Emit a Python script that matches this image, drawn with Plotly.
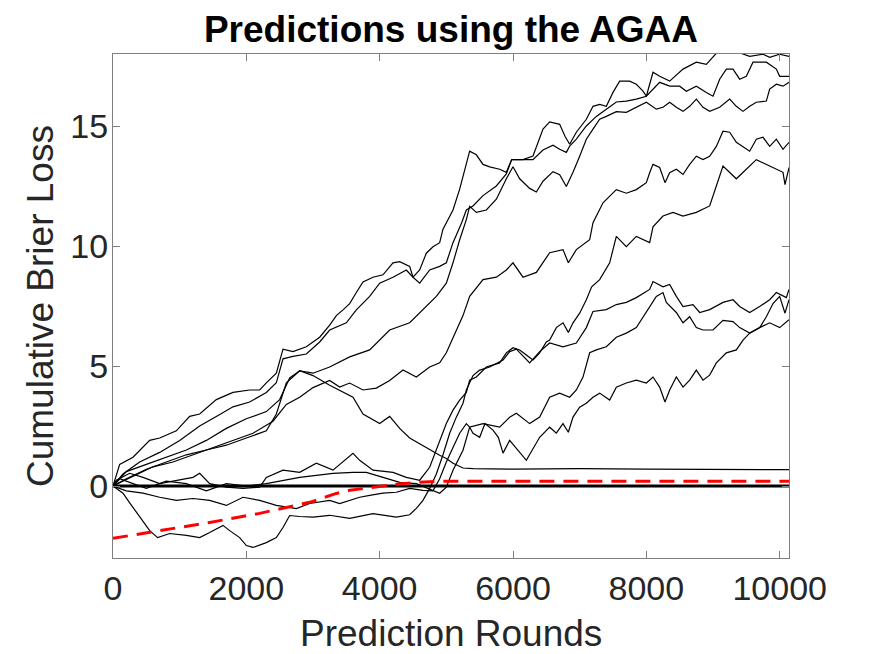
import plotly.graph_objects as go

# ---------------- data ----------------
title_text = "Predictions using the AGAA"
x_label = "Prediction Rounds"
y_label = "Cumulative Brier Loss"
x_ticks = [0, 2000, 4000, 6000, 8000, 10000]
y_ticks = [0, 5, 10, 15]
x_max = 10140
y_min, y_max = -3, 18

run_a_x = [0, 100, 300, 550, 700, 950, 1150, 1300, 1550, 1800, 2050, 2200, 2300, 2450, 2550, 2700, 2900, 3100,
           3250, 3350, 3450, 3550, 3650, 3750, 3900, 4050, 4200, 4300, 4450, 4500, 4600, 4700, 4800, 4900, 4950,
           5100, 5200, 5300, 5350, 5450, 5550, 5650, 5800, 5900, 5980, 6150, 6300, 6450, 6550, 6700, 6780, 6850,
           6950, 7100, 7200, 7300, 7400, 7500, 7600, 7750, 7850, 7950, 8000, 8100, 8200, 8350, 8550, 8750, 8900,
           9050, 9200, 9400, 9550, 9750, 9850, 10000, 10140]
run_a_y = [0, 0.9, 1.2, 1.9, 2.0, 2.3, 2.9, 3.0, 3.6, 3.9, 4.0, 4.0, 4.3, 4.7, 5.7, 5.6, 5.8, 6.2,
           6.7, 7.1, 7.34, 7.6, 8.06, 8.5, 8.7, 8.8, 9.3, 9.35, 9.15, 8.7, 9.0, 9.7, 9.97, 10.14, 10.7,
           11.5, 12.37, 13.5, 13.95, 13.8, 13.4, 13.3, 13.2, 13.07, 13.6, 13.6, 13.75, 14.87, 15.17, 15.07, 14.57, 14.24,
           14.74, 15.28, 15.82, 15.9, 15.82, 16.4, 16.87, 16.87, 16.74, 16.45, 16.24, 17.24, 17.07, 16.87, 17.37, 17.66, 17.57,
           18.03, 18.1, 18.05, 17.9, 17.99, 17.86, 17.99, 17.9]

run_b_x = [0, 150, 400, 700, 1000, 1300, 1550, 1800, 2050, 2300, 2450, 2550, 2700, 2900, 3100, 3250, 3500, 3650,
           3850, 4000, 4200, 4400, 4500, 4600, 4750, 4900, 5000, 5100, 5230, 5300, 5400, 5550, 5750, 5900, 5980,
           6150, 6300, 6450, 6600, 6700, 6800, 6850, 6950, 7100, 7250, 7400, 7550, 7700, 7850, 8000, 8200, 8350,
           8500, 8600, 8750, 8900, 9000, 9100, 9200, 9300, 9400, 9500, 9600, 9800, 9950, 10000, 10140]
run_b_y = [0, 0.5, 1.0, 1.4, 1.9, 2.5, 2.9, 3.3, 3.5, 3.9, 4.3, 5.3, 5.4, 5.5, 6.0, 6.5, 6.8, 7.34,
           7.9, 8.45, 8.7, 9.0, 8.7, 8.45, 9.0, 9.15, 9.3, 10.14, 10.97, 11.5, 11.67, 12.1, 12.5, 13.0, 13.6,
           13.6, 13.6, 14.0, 14.2, 14.03, 13.9, 14.16, 14.45, 15.0, 15.4, 15.7, 16.0, 16.04, 16.12, 16.24, 16.82, 16.66,
           16.66, 16.45, 16.66, 16.4, 16.24, 16.95, 17.37, 17.37, 16.95, 17.07, 17.66, 17.66, 17.37, 17.07, 17.07]

run_c_x = [0, 200, 500, 800, 1100, 1400, 1700, 2000, 2300, 2500, 2650, 2800, 3000, 3250, 3550, 3850, 4150, 4450,
           4650, 4850, 5000, 5100, 5200, 5300, 5350, 5450, 5600, 5750, 5900, 6000, 6100, 6250, 6350, 6450, 6600,
           6700, 6800, 6900, 7000, 7100, 7200, 7300, 7400, 7550, 7700, 7850, 8000, 8150, 8250, 8350, 8450, 8550,
           8650, 8750, 8850, 8950, 9100, 9250, 9350, 9450, 9550, 9650, 9800, 9850, 9950, 10050, 10140]
run_c_y = [0, 0.6, 0.9, 1.2, 1.5, 1.9, 2.4, 2.8, 3.1, 3.6, 4.5, 4.8, 4.7, 4.96, 5.38, 5.67, 6.5, 6.8,
           7.34, 7.9, 8.45, 9.3, 10.26, 11.1, 11.65, 11.4, 11.5, 11.95, 12.8, 13.3, 12.8, 12.4, 12.25, 12.7, 13.1,
           12.97, 12.48, 13.07, 13.74, 14.45, 14.87, 15.28, 15.4, 15.6, 15.57, 15.78, 15.99, 15.7, 15.78, 15.99, 15.78, 15.61,
           15.82, 16.12, 15.78, 15.61, 15.78, 16.12, 15.82, 15.61, 15.82, 15.99, 16.04, 16.54, 16.74, 16.66, 16.82]

run_d_x = [0, 300, 600, 900, 1200, 1500, 1800, 2100, 2400, 2600, 2800, 3000, 3250, 3400, 3550, 3750, 3950, 4150,
           4350, 4550, 4750, 4900, 5000, 5100, 5250, 5350, 5550, 5750, 5900, 6000, 6150, 6350, 6550, 6750, 6830,
           6950, 7150, 7200, 7350, 7550, 7700, 7850, 8000, 8050, 8100, 8200, 8280, 8350, 8450, 8550, 8650, 8750,
           8850, 8950, 9050, 9150, 9250, 9350, 9450, 9550, 9650, 9750, 9850, 9950, 10050, 10140]
run_d_y = [0, 0.4, 0.8, 1.0, 1.3, 1.6, 1.9, 2.2, 2.7, 3.4, 3.7, 4.1, 4.4, 4.12, 4.29, 4.0, 4.08, 4.4,
           4.83, 4.54, 4.96, 5.13, 5.55, 6.2, 7.1, 7.9, 8.6, 8.7, 9.0, 9.3, 8.7, 8.9, 9.72, 9.85, 9.3,
           9.85, 10.26, 10.97, 11.8, 12.35, 12.2, 12.35, 12.64, 13.05, 13.4, 13.27, 12.64, 13.05, 13.2, 12.98, 13.4, 13.74,
           13.6, 13.74, 14.15, 14.78, 14.74, 14.32, 14.15, 13.95, 14.45, 14.53, 14.15, 14.45, 14.03, 14.32]

run_e_x = [0, 50, 250, 450, 700, 950, 1200, 1300, 1450, 1700, 1950, 2200, 2300, 2550, 2800, 3050, 3300, 3600,
           3700, 3900, 4200, 4400, 4600, 4750, 4850, 4900, 5000, 5100, 5200, 5300, 5350, 5450, 5600, 5800, 5900,
           6000, 6100, 6200, 6300, 6400, 6500, 6550, 6650, 6750, 6830, 6900, 7000, 7100, 7180, 7300, 7450, 7550,
           7700, 7850, 8050, 8100, 8250, 8400, 8550, 8750, 8950, 9050, 9150, 9350, 9550, 9650, 9850, 10050, 10080, 10140]
run_e_y = [0, 0.24, 0.53, 0.36, 0.1, 0.24, 0.36, 0.53, 0.1, -0.05, -0.1, -0.05, 0.36, 0.66, 0.57, 0.95, 0.66, 1.36,
           1.07, 0.66, 0.57, 0.36, 0.24, 0.78, 1.49, 1.9, 2.6, 3.16, 3.58, 3.9, 4.41, 4.54, 4.96, 5.13, 5.55,
           5.76, 5.67, 5.46, 5.25, 5.55, 6.0, 6.08, 6.6, 6.8, 6.4, 6.8, 7.2, 7.76, 8.3, 8.6, 9.3, 10.4,
           9.97, 10.4, 10.14, 10.8, 11.25, 11.4, 11.25, 11.4, 11.67, 12.5, 13.33, 12.8, 13.33, 13.6, 13.33, 13.07, 12.56, 13.27]

run_f_x = [0, 150, 250, 400, 550, 670, 850, 1100, 1300, 1450, 1650, 1750, 1900, 2000, 2100, 2300, 2450, 2550,
           2650, 2800, 3000, 3250, 3550, 3900, 4250, 4450, 4550, 4650, 4750, 4850, 4950, 5050, 5150, 5250, 5300,
           5400, 5500, 5650, 5850, 5950, 6050, 6250, 6400, 6550, 6750, 6950, 7100, 7200, 7400, 7550, 7700, 7850,
           8050, 8100, 8250, 8350, 8450, 8550, 8700, 8800, 8950, 9150, 9300, 9400, 9550, 9700, 9850, 9950, 10100, 10140]
run_f_y = [0, -0.3, -0.7, -1.3, -1.86, -2.15, -1.98, -2.06, -2.15, -1.94, -1.64, -1.86, -2.15, -2.48, -2.56, -2.36, -2.15, -1.73,
           -1.23, -1.27, -1.3, -1.22, -1.35, -1.15, -1.3, -1.2, -0.93, -0.6, -0.1, 0.5, 1.3, 2.2, 2.87, 3.45, 4.0,
           4.6, 4.83, 4.96, 5.25, 5.6, 5.7, 5.13, 5.6, 5.96, 5.8, 5.96, 6.6, 7.27, 7.35, 7.56, 7.65, 7.85,
           8.19, 8.52, 8.3, 8.4, 7.9, 7.48, 7.56, 7.23, 7.35, 7.65, 7.76, 7.48, 7.23, 7.48, 7.76, 8.06, 7.85, 8.19]

run_g_x = [0, 200, 450, 700, 950, 1200, 1450, 1700, 1950, 2200, 2450, 2750, 2950, 3250, 3400, 3550, 3700, 3850,
           4050, 4250, 4450, 4650, 4800, 4900, 5000, 5100, 5200, 5300, 5350, 5550, 5800, 5950, 6050, 6250, 6400,
           6550, 6700, 6850, 6950, 7050, 7150, 7250, 7400, 7550, 7700, 7850, 7950, 8050, 8150, 8250, 8300, 8450,
           8550, 8650, 8750, 8850, 9000, 9150, 9300, 9400, 9550, 9700, 9800, 9900, 10000, 10080, 10140]
run_g_y = [0, -0.2, -0.3, -0.47, -0.6, -0.52, -0.6, -0.81, -0.47, -0.6, -0.81, -0.94, -0.73, -0.6, -0.73, -0.6, -0.47, -0.39,
           -0.3, -0.26, -0.1, -0.18, -0.2, 0.3, 1.0, 1.6, 2.2, 2.6, 2.45, 2.6, 2.45, 2.87, 3.03, 2.6, 2.87,
           3.7, 3.87, 3.7, 4.0, 4.54, 5.55, 5.67, 5.8, 6.2, 6.37, 6.6, 7.05, 7.48, 7.9, 8.06, 7.65, 7.23,
           6.8, 7.05, 6.6, 6.5, 6.5, 6.9, 6.85, 6.6, 6.37, 6.6, 7.05, 7.6, 7.9, 7.2, 7.76]

run_h_x = [0, 100, 300, 500, 800, 1100, 1400, 1700, 2000, 2300, 2800, 3300, 3600, 3800, 4050, 4300, 4550, 4800,
           4900, 5000, 5100, 5250, 5350, 5400, 5500, 5580, 5700, 5780, 5850, 5950, 6200, 6400, 6550, 6650, 6750,
           6830, 6900, 7000, 7100, 7200, 7300, 7450, 7550, 7700, 7850, 8000, 8100, 8200, 8280, 8350, 8450, 8550,
           8650, 8750, 8850, 8950, 9050, 9200, 9350, 9450, 9550, 9700, 9850, 10000, 10100, 10140]
run_h_y = [0, 0.3, 0.1, -0.1, 0.2, 0.1, -0.2, 0.1, 0.0, 0.1, 0.36, 0.53, 0.57, 0.57, 0.36, 0.15, 0.1, -0.2,
           -0.3, -0.05, 0.66, 1.49, 2.45, 2.2, 2.03, 2.6, 2.33, 2.03, 1.37, 1.9, 1.07, 2.03, 2.45, 2.2, 2.6,
           2.24, 2.87, 3.28, 3.45, 3.7, 3.87, 3.58, 4.12, 4.29, 4.41, 4.29, 4.54, 4.12, 3.5, 4.0, 4.54, 4.12,
           4.41, 4.83, 4.41, 4.62, 5.13, 5.55, 5.67, 6.08, 6.37, 6.6, 6.8, 6.6, 6.85, 6.93]

run_i_x = [0, 200, 500, 800, 1100, 1400, 1700, 2000, 2300, 2450, 2600, 2800, 3000, 3250, 3400, 3600, 3750, 4000,
           4150, 4300, 4450, 4600, 4750, 4900, 5000, 5100, 5250, 5400, 6000, 7000, 8000, 9000, 10140]
run_i_y = [0, 0.3, 0.7, 1.0, 1.3, 1.5, 1.7, 2.0, 2.3, 3.0, 4.3, 4.8, 4.6, 4.2, 4.0, 3.7, 3.0, 2.6,
           2.9, 2.4, 2.0, 1.75, 1.5, 1.28, 1.15, 0.95, 0.75, 0.72, 0.70, 0.72, 0.70, 0.69, 0.68]

zero_x = [0, 10140]
zero_y = [0, 0]

bound_x = [0, 700, 1450, 2200, 2950, 3350, 3550, 4250, 4550, 4950, 10140]
bound_y = [-2.18, -1.86, -1.52, -1.14, -0.68, -0.31, -0.18, 0.07, 0.15, 0.2, 0.2]

runs = [(run_a_x, run_a_y), (run_b_x, run_b_y), (run_c_x, run_c_y), (run_d_x, run_d_y),
        (run_e_x, run_e_y), (run_f_x, run_f_y), (run_g_x, run_g_y), (run_h_x, run_h_y),
        (run_i_x, run_i_y)]

# ---------------- figure ----------------
FONT = "Liberation Sans, Arial, Helvetica, sans-serif"
TXT = "#262626"
AX = "#7f7f7f"

fig = go.Figure()
for rx, ry in runs:
    fig.add_trace(go.Scatter(x=rx, y=ry, mode="lines",
                             line=dict(color="black", width=1.2), showlegend=False,
                             hoverinfo="skip"))
fig.add_trace(go.Scatter(x=zero_x, y=zero_y, mode="lines",
                         line=dict(color="black", width=3), showlegend=False))
fig.add_trace(go.Scatter(x=bound_x, y=bound_y, mode="lines",
                         line=dict(color="#ff0000", width=3, dash="15px,9px"), showlegend=False))

# the page adds an 8px body margin, so the figure box is shifted by 8px
fig.update_layout(
    width=872, height=654,
    margin=dict(l=105, r=91, t=46, b=104, autoexpand=False),
    paper_bgcolor="white", plot_bgcolor="white",
    font=dict(family=FONT, color=TXT, size=34),
    title=dict(text="<b>" + title_text + "</b>", x=0.508, xanchor="center",
               y=0.968, yanchor="middle", yref="container",
               font=dict(family=FONT, size=37, color="black")),
    annotations=[
        dict(text=x_label, xref="paper", yref="paper", x=0.5, y=0,
             xanchor="center", yanchor="middle", yshift=-75, showarrow=False,
             font=dict(family=FONT, size=37, color=TXT)),
        dict(text=y_label, xref="paper", yref="paper", x=0, y=0.5,
             xanchor="center", yanchor="middle", xshift=-73, textangle=-90,
             showarrow=False, font=dict(family=FONT, size=37, color=TXT)),
    ],
)
fig.update_xaxes(
    range=[0, x_max], tickvals=x_ticks, ticktext=[str(v) for v in x_ticks],
    ticks="inside", ticklen=7, tickcolor=AX, tickwidth=1,
    showline=True, linecolor=AX, linewidth=1, mirror="ticks",
    showgrid=False, zeroline=False, automargin=False,
    tickfont=dict(size=34, color=TXT), ticklabelstandoff=0,
)
fig.update_yaxes(
    range=[y_min, y_max], tickvals=y_ticks, ticktext=[str(v) for v in y_ticks],
    ticks="inside", ticklen=7, tickcolor=AX, tickwidth=1,
    showline=True, linecolor=AX, linewidth=1, mirror="ticks",
    showgrid=False, zeroline=False, automargin=False,
    tickfont=dict(size=34, color=TXT), ticklabelstandoff=-3,
)

fig.write_html("out.html")
